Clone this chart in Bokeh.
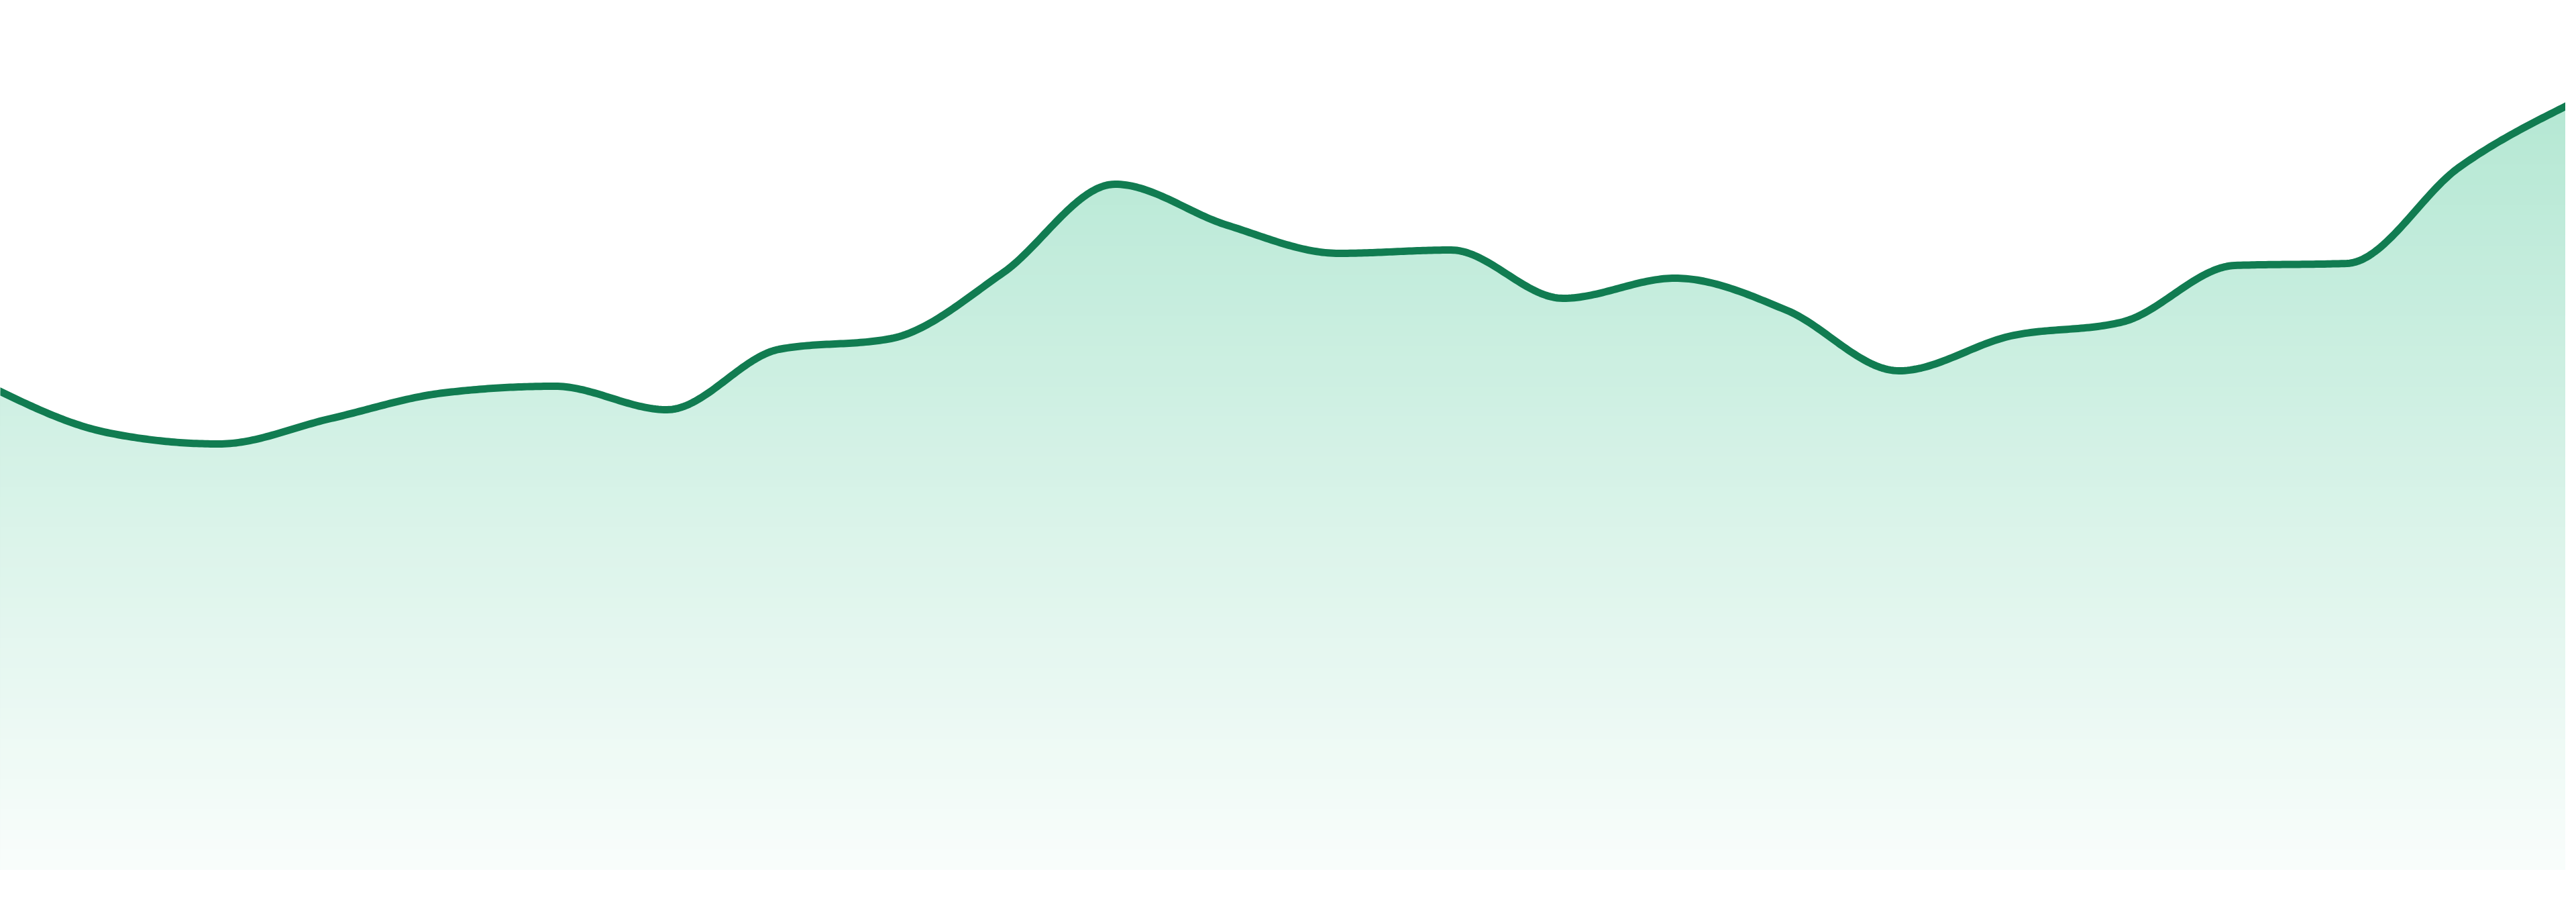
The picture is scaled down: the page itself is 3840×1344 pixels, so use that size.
import numpy as np
from bokeh.embed import file_html
from bokeh.models import Range1d
from bokeh.plotting import figure
from bokeh.resources import INLINE

# values, one per step
values = [71.6, 65.1, 63.4, 67.2, 71.0, 72.0, 68.5, 77.5, 79.1, 88.9, 102.1, 96.0,
          91.8, 92.3, 85.1, 88.1, 83.3, 74.3, 79.5, 81.6, 90.0, 90.3, 104.6, 114.1]
steps = list(range(len(values)))

line_color = "#117c51"
fill_rgb = (16, 180, 115)


def monotone_x(xs, ys, samples=40):
    # same curve as d3.curveMonotoneX
    xs = np.asarray(xs, dtype=float)
    ys = np.asarray(ys, dtype=float)
    n = len(xs)
    h = np.diff(xs)
    s = np.diff(ys) / h
    t = np.zeros(n)
    for i in range(1, n - 1):
        p = (s[i - 1] * h[i] + s[i] * h[i - 1]) / (h[i - 1] + h[i])
        t[i] = (np.sign(s[i - 1]) + np.sign(s[i])) * min(abs(s[i - 1]), abs(s[i]), 0.5 * abs(p))
    t[0] = (3 * s[0] - t[1]) / 2
    t[-1] = (3 * s[-1] - t[-2]) / 2
    out_x, out_y = [], []
    for i in range(n - 1):
        u = np.linspace(0, 1, samples, endpoint=(i == n - 2))
        h00 = 2 * u**3 - 3 * u**2 + 1
        h10 = u**3 - 2 * u**2 + u
        h01 = -2 * u**3 + 3 * u**2
        h11 = u**3 - u**2
        out_x.append(xs[i] + u * h[i])
        out_y.append(h00 * ys[i] + h10 * h[i] * t[i] + h01 * ys[i + 1] + h11 * h[i] * t[i + 1])
    return np.concatenate(out_x), np.concatenate(out_y)


cx, cy = monotone_x(steps, values)

W, H = 3824, 1328
step_px = 3840 / 23
x_start, x_end = 8 / step_px, 3832 / step_px
y_start, y_end = -3.3, 129.5

p = figure(width=W, height=H, output_backend="svg", toolbar_location=None,
           x_range=Range1d(x_start, x_end), y_range=Range1d(y_start, y_end),
           min_border=0, background_fill_color="white", border_fill_color="white")
p.axis.visible = False
p.grid.visible = False
p.outline_line_color = None


def band_color(level):
    # fade from ~0.35 opacity at the top to almost nothing at the base
    page_y = 1303 - level * 10
    a = max(0.0, 0.3515 - 0.00025 * page_y)
    r, g, b = (round(255 - a * (255 - c)) for c in fill_rgb)
    return f"#{r:02x}{g:02x}{b:02x}"


# vertical gradient: stack clipped areas, highest band first
levels = np.arange(1.5, max(values) + 1.5, 1.5)
for lv in levels[::-1]:
    p.varea(x=cx, y1=0, y2=np.minimum(cy, lv), fill_color=band_color(lv - 0.75))

p.line(cx, cy, line_color=line_color, line_width=11, line_join="round")

open("out.html", "w").write(file_html(p, INLINE))
